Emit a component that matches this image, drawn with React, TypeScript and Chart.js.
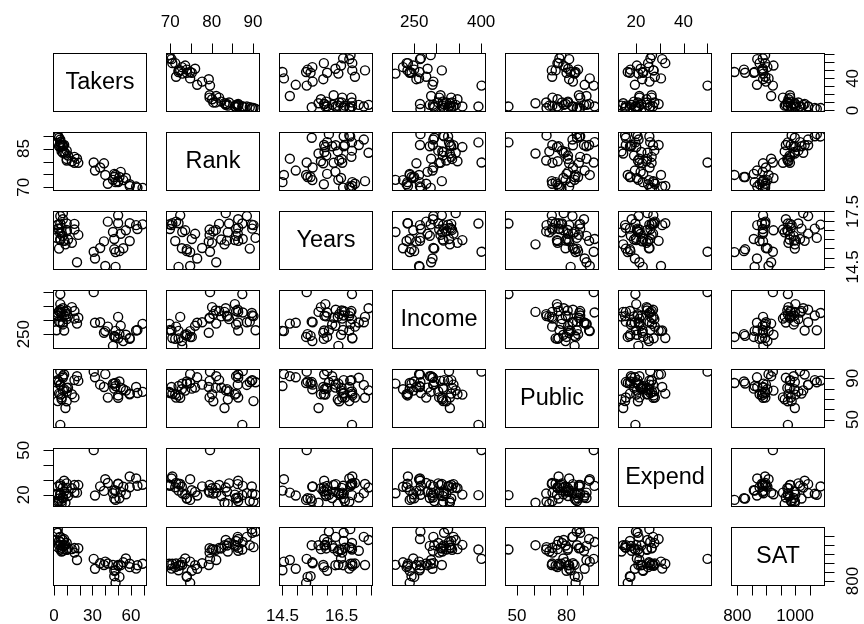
import React, { useEffect, useRef } from "react";
import { Chart, registerables } from "chart.js";

Chart.register(...registerables);

// ---- data (50 states, 1982 SAT study) ----
const varNames = ["Takers", "Rank", "Years", "Income", "Public", "Expend", "SAT"];

const sat = [1088, 1075, 1068, 1045, 1045, 1033, 1028, 1022, 1017, 1011, 1001, 999, 999, 997, 995, 988, 985, 983, 982, 981, 977, 975, 975, 973, 968, 964, 958, 925, 923, 917, 908, 904, 899, 897, 896, 896, 890, 889, 889, 888, 888, 885, 877, 869, 868, 860, 857, 827, 823, 790];
const takers = [3, 2, 3, 5, 5, 8, 7, 4, 5, 10, 5, 4, 9, 8, 7, 3, 6, 16, 19, 11, 14, 5, 10, 10, 7, 6, 16, 56, 31, 18, 40, 54, 36, 42, 69, 59, 46, 39, 50, 52, 65, 50, 59, 64, 32, 48, 47, 47, 51, 48];
const income = [326, 264, 317, 338, 293, 263, 343, 333, 328, 304, 358, 295, 330, 316, 285, 315, 330, 333, 309, 314, 347, 394, 322, 335, 292, 313, 306, 248, 401, 288, 261, 225, 293, 277, 287, 236, 208, 255, 312, 280, 265, 235, 233, 263, 291, 262, 240, 244, 250, 240];
const years = [16.79, 16.07, 16.57, 16.3, 17.25, 15.91, 17.41, 16.57, 16.01, 16.85, 15.95, 15.49, 15.72, 15.92, 16.18, 16.76, 16.61, 16.83, 16.23, 15.98, 15.8, 16.85, 16.42, 16.5, 17.08, 16.37, 16.52, 16.48, 15.32, 14.75, 14.55, 15.51, 15.52, 16.95, 16.8, 16.86, 16.39, 15.88, 17.29, 16.29, 16.55, 16.86, 15.9, 16.76, 14.95, 14.5, 16.01, 15.45, 15.35, 15.3];
const publicPct = [87.8, 86.2, 88.3, 83.9, 83.6, 93.7, 78.3, 75.2, 97.0, 77.3, 74.2, 86.4, 61.2, 79.5, 92.1, 67.9, 71.4, 88.3, 87.5, 80.9, 74.6, 44.8, 67.7, 80.7, 90.6, 69.6, 71.5, 78.1, 96.5, 92.1, 94.1, 79.4, 83.9, 71.3, 76.9, 75.2, 84.9, 81.6, 71.1, 81.0, 75.7, 73.4, 74.5, 81.6, 91.0, 82.5, 80.0, 85.0, 87.0, 85.5];
const expend = [25.6, 19.95, 20.62, 27.14, 21.05, 29.48, 24.84, 17.42, 25.96, 27.69, 20.07, 15.71, 14.58, 22.19, 17.8, 15.36, 15.69, 26.56, 26.53, 19.14, 24.41, 19.72, 20.79, 24.61, 18.16, 13.84, 21.43, 20.33, 50.1, 21.39, 30.49, 25.41, 25.66, 27.91, 26.7, 32.3, 20.96, 22.57, 27.26, 21.92, 26.05, 27.39, 25.06, 31.0, 19.5, 22.8, 23.0, 17.4, 17.6, 16.5];
const rank = [89.7, 90.6, 89.8, 86.3, 88.5, 86.4, 83.4, 85.9, 87.5, 84.2, 85.6, 89.2, 83.1, 83.7, 85.9, 90.1, 86.4, 81.8, 79.5, 82.3, 80.1, 87.4, 80.4, 81.0, 86.4, 83.9, 79.5, 73.6, 79.6, 81.1, 74.8, 72.8, 77.7, 71.4, 69.8, 70.5, 72.9, 79.3, 72.4, 76.0, 69.9, 72.0, 71.2, 70.3, 76.5, 72.0, 75.2, 74.0, 74.0, 74.8];

// ---- axis ticks and the labels R prints on them ----
const takersTicks = [0, 10, 20, 30, 40, 50, 60, 70];
const rankTicks = [70, 75, 80, 85, 90];
const yearsTicks = [14.5, 15, 15.5, 16, 16.5, 17, 17.5];
const incomeTicks = [250, 300, 350, 400];
const publicTicks = [50, 60, 70, 80, 90];
const expendTicks = [20, 30, 40, 50];
const satTicks = [800, 850, 900, 950, 1000, 1050];

// labels on the horizontal axes (top / bottom)
const takersLabelsH = ["0", "30", "60"];
const rankLabelsH = ["70", "80", "90"];
const yearsLabelsH = ["14.5", "16.5"];
const incomeLabelsH = ["250", "400"];
const publicLabelsH = ["50", "80"];
const expendLabelsH = ["20", "40"];
const satLabelsH = ["800", "1000"];

// labels on the vertical axes (left / right)
const takersLabelsV = ["0", "40"];
const rankLabelsV = ["70", "85"];
const yearsLabelsV = ["14.5", "17.5"];
const incomeLabelsV = ["250"];
const publicLabelsV = ["50", "90"];
const expendLabelsV = ["20", "50"];
const satLabelsV = ["800"];

const columns = [takers, rank, years, income, publicPct, expend, sat];
const tickSets = [takersTicks, rankTicks, yearsTicks, incomeTicks, publicTicks, expendTicks, satTicks];
const labelsH = [takersLabelsH, rankLabelsH, yearsLabelsH, incomeLabelsH, publicLabelsH, expendLabelsH, satLabelsH];
const labelsV = [takersLabelsV, rankLabelsV, yearsLabelsV, incomeLabelsV, publicLabelsV, expendLabelsV, satLabelsV];

// ---- layout ----
const BOX_W = 93;
const BOX_H = 58;
const PITCH_X = 113;
const PITCH_Y = 79;
const LEFT0 = 53;
const TOP0 = 53;
const M = 45;
const TICK_LEN = 10;
const LABEL_OFF = 31;
const FONT = "Arial, 'Liberation Sans', Helvetica, sans-serif";

function extRange(v: number[]): [number, number] {
  const mn = Math.min(...v);
  const mx = Math.max(...v);
  const d = (mx - mn) * 0.04;
  return [mn - d, mx + d];
}

function makePlugin(i: number, j: number) {
  return {
    id: "pairsPanel",
    afterDraw(chart: any) {
      const { ctx, chartArea: a, scales } = chart;
      const xs = scales.x;
      const ys = scales.y;
      ctx.save();
      ctx.strokeStyle = "#000";
      ctx.fillStyle = "#000";
      ctx.lineWidth = 1;
      ctx.strokeRect(a.left + 0.5, a.top + 0.5, a.right - a.left, a.bottom - a.top);

      if (i === j) {
        ctx.font = `23.5px ${FONT}`;
        ctx.textAlign = "center";
        ctx.textBaseline = "middle";
        ctx.fillText(varNames[i], (a.left + a.right) / 2 + 0.5, (a.top + a.bottom) / 2 + 1);
      }

      ctx.font = `17px ${FONT}`;
      ctx.textAlign = "center";
      ctx.textBaseline = "middle";

      const top = i === 0 && j % 2 === 1;
      const bottom = i === 6 && j % 2 === 0;
      const left = j === 0 && i % 2 === 1;
      const right = j === 6 && i % 2 === 0;

      if (top || bottom) {
        const ticks = tickSets[j];
        const labs = labelsH[j];
        const yEdge = top ? a.top + 0.5 : a.bottom + 0.5;
        const dir = top ? -1 : 1;
        ctx.beginPath();
        const p0 = Math.round(xs.getPixelForValue(ticks[0])) + 0.5;
        const p1 = Math.round(xs.getPixelForValue(ticks[ticks.length - 1])) + 0.5;
        ctx.moveTo(p0, yEdge);
        ctx.lineTo(p1, yEdge);
        ticks.forEach((v) => {
          const px = Math.round(xs.getPixelForValue(v)) + 0.5;
          ctx.moveTo(px, yEdge);
          ctx.lineTo(px, yEdge + dir * TICK_LEN);
        });
        ctx.stroke();
        ticks.forEach((v) => {
          const s = String(v);
          if (labs.includes(s)) {
            const px = xs.getPixelForValue(v);
            ctx.fillText(s, px, yEdge + dir * LABEL_OFF);
          }
        });
      }

      if (left || right) {
        const ticks = tickSets[i];
        const labs = labelsV[i];
        const xEdge = left ? a.left + 0.5 : a.right + 0.5;
        const dir = left ? -1 : 1;
        ctx.beginPath();
        const p0 = Math.round(ys.getPixelForValue(ticks[0])) + 0.5;
        const p1 = Math.round(ys.getPixelForValue(ticks[ticks.length - 1])) + 0.5;
        ctx.moveTo(xEdge, p0);
        ctx.lineTo(xEdge, p1);
        ticks.forEach((v) => {
          const py = Math.round(ys.getPixelForValue(v)) + 0.5;
          ctx.moveTo(xEdge, py);
          ctx.lineTo(xEdge + dir * TICK_LEN, py);
        });
        ctx.stroke();
        ticks.forEach((v) => {
          const s = String(v);
          if (labs.includes(s)) {
            const py = ys.getPixelForValue(v);
            ctx.save();
            ctx.translate(xEdge + dir * (LABEL_OFF - 2), py);
            ctx.rotate(-Math.PI / 2);
            ctx.fillText(s, 0, 0);
            ctx.restore();
          }
        });
      }
      ctx.restore();
    },
  };
}

function Panel({ i, j }: { i: number; j: number }) {
  const ref = useRef<HTMLCanvasElement | null>(null);
  useEffect(() => {
    if (!ref.current) return;
    const xv = columns[j];
    const yv = columns[i];
    const [xmin, xmax] = extRange(xv);
    const [ymin, ymax] = extRange(yv);
    const pts = i === j ? [] : xv.map((x, k) => ({ x, y: yv[k] }));
    const chart = new Chart(ref.current, {
      type: "scatter",
      data: {
        datasets: [
          {
            data: pts,
            pointRadius: 4.5,
            pointHoverRadius: 4.5,
            pointBorderWidth: 1.4,
            pointBorderColor: "#000",
            pointBackgroundColor: "rgba(0,0,0,0)",
            clip: 0,
          } as any,
        ],
      },
      options: {
        responsive: false,
        animation: false,
        events: [],
        layout: { padding: M },
        plugins: { legend: { display: false }, tooltip: { enabled: false } },
        scales: {
          x: { type: "linear", display: false, min: xmin, max: xmax },
          y: { type: "linear", display: false, min: ymin, max: ymax },
        },
      },
      plugins: [makePlugin(i, j)],
    });
    return () => chart.destroy();
  }, [i, j]);
  const w = BOX_W + 2 * M;
  const h = BOX_H + 2 * M;
  return (
    <canvas
      ref={ref}
      width={w}
      height={h}
      style={{
        position: "absolute",
        left: LEFT0 + j * PITCH_X - M,
        top: TOP0 + i * PITCH_Y - M,
        width: w,
        height: h,
      }}
    />
  );
}

export default function App() {
  const cells: JSX.Element[] = [];
  for (let i = 0; i < 7; i++) {
    for (let j = 0; j < 7; j++) {
      cells.push(<Panel key={`${i}-${j}`} i={i} j={j} />);
    }
  }
  return (
    <div
      style={{
        position: "absolute",
        left: 0,
        top: 0,
        width: 864,
        height: 624,
        overflow: "hidden",
        background: "#fff",
      }}
    >
      {cells}
    </div>
  );
}
